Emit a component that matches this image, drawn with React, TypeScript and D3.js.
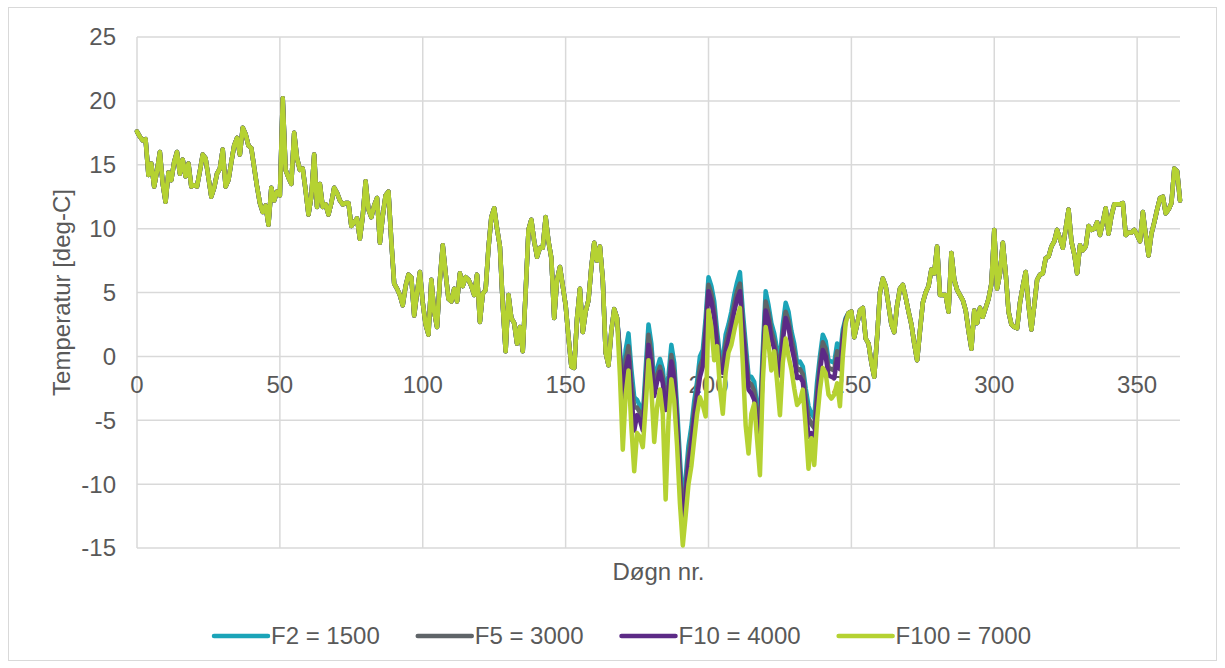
import React, { useEffect, useRef } from 'react';
import * as d3 from 'd3';

// days 0..168, all four series are the same here
const tempStart = [
  17.6, 17.2, 16.9, 17.0, 14.2, 15.1, 13.3, 14.5, 16.0, 13.5,
  12.1, 14.4, 13.8, 15.2, 16.0, 14.3, 15.4, 14.1, 15.1, 13.3,
  13.4, 13.3, 14.5, 15.8, 15.5, 14.0, 12.5, 13.2, 14.3, 14.7,
  16.2, 13.3, 13.8, 15.2, 16.5, 17.1, 15.8, 17.9, 17.4, 16.5,
  16.3, 14.8, 13.3, 12.0, 11.3, 11.8, 10.3, 13.2, 12.2, 12.9,
  12.6, 20.2, 14.6, 14.0, 13.5, 17.5, 15.5, 14.6, 14.7, 13.0,
  11.1, 12.5, 15.8, 11.7, 13.5, 11.7, 11.9, 11.1, 12.0, 13.2,
  12.8, 12.2, 11.9, 12.0, 12.0, 10.2, 10.5, 10.8, 9.2, 11.0,
  13.7, 11.5, 10.9, 11.8, 12.4, 8.9, 11.0, 12.6, 12.9, 9.0,
  5.7, 5.3, 4.8, 4.0, 5.5, 6.4, 6.2, 3.2, 5.0, 6.6,
  4.2, 2.5, 1.7, 6.0, 3.5, 2.3, 6.0, 8.7, 6.5, 4.5,
  4.3, 5.3, 4.3, 6.5, 5.5, 6.2, 6.0, 5.5, 4.8, 6.4,
  2.7, 4.9, 5.2, 8.5, 10.9, 11.6, 10.0, 8.6, 4.0, 0.4,
  4.8, 3.0, 2.6, 1.0, 2.3, 0.4, 5.0, 9.9, 10.7, 9.0,
  7.8, 8.5, 8.5, 10.9, 9.0, 7.7, 3.0, 6.0, 7.0, 5.5,
  4.0, 1.5, -0.8, -0.9, 3.0, 5.3, 1.9, 3.5, 4.4, 7.0,
  8.9, 7.5, 8.6, 6.0, 0.3, -0.7, 2.0, 3.7, 3.0
];

// days 169..248, where the series split
const f2Mid = [
  0.5, -3.0, 0.5, 1.8, -1.0, -3.2, -3.4, -3.9, -4.7, -1.0,
  2.5, 1.0, -2.1, -1.0, -0.2, -1.0, -3.4, -1.5, 0.9, -0.5,
  -4.0, -8.0, -11.8, -9.5, -7.0, -5.5, -3.5, -2.0, 0.0, 0.5,
  3.0, 6.2, 5.5, 4.3, 2.0, 0.0, -0.3, 1.7, 2.5, 3.5,
  4.8, 5.8, 6.6, 3.5, 1.0, -1.5, -1.6, -2.0, -3.9, -4.7,
  0.5, 5.1, 4.0, 2.6, 1.8, 0.5, -0.3, 2.5, 4.2, 3.5,
  2.0, 1.0, -0.5, -0.4, -0.8, -2.5, -3.9, -4.5, -4.8, -2.0,
  0.0, 1.7, 1.2, -0.3, -0.4, -0.5, 1.0, 0.0, 2.1, 3.0
];
const f5Mid = [
  0.2, -3.5, -0.3, 0.8, -2.0, -4.0, -4.0, -4.4, -5.2, -1.8,
  1.7, 0.2, -2.6, -1.5, -0.8, -1.6, -3.8, -2.2, 0.1, -1.2,
  -4.8, -9.0, -12.5, -10.3, -7.8, -6.2, -4.2, -2.6, -0.8, -0.2,
  2.3, 5.6, 4.9, 3.6, 1.4, -0.5, -0.9, 1.0, 1.9, 2.9,
  4.1, 5.1, 5.7, 2.8, 0.3, -2.0, -2.2, -2.7, -4.6, -5.5,
  -0.2, 4.3, 3.4, 2.0, 1.2, -0.2, -0.9, 1.8, 3.5, 2.8,
  1.4, 0.4, -1.1, -1.0, -1.4, -3.2, -4.8, -5.3, -5.6, -2.8,
  -0.6, 1.1, 0.6, -0.9, -1.0, -1.1, 0.4, -0.6, 1.7, 2.9
];
const f10Mid = [
  0.0, -4.0, -1.0, 0.0, -3.0, -5.8, -4.6, -5.0, -5.8, -2.6,
  0.9, -0.6, -3.1, -2.0, -1.2, -2.1, -4.2, -2.8, -0.4, -1.8,
  -5.5, -10.0, -13.3, -11.0, -8.5, -7.0, -4.9, -3.2, -1.6, -0.8,
  1.8, 5.1, 4.3, 3.0, 0.8, -1.0, -1.3, 0.4, 1.3, 2.3,
  3.5, 4.5, 5.1, 2.0, -0.4, -2.6, -2.9, -3.4, -5.4, -6.3,
  -1.0, 3.6, 2.8, 1.4, 0.6, -0.8, -1.5, 1.2, 3.0, 2.3,
  0.8, -0.2, -1.7, -1.6, -2.0, -4.0, -6.3, -6.0, -6.5, -3.6,
  -1.2, 0.5, 0.0, -1.5, -1.6, -1.7, -0.2, -1.0, 1.3, 2.8
];
const f100Mid = [
  -1.5, -7.3, -3.0, -1.1, -5.5, -9.0, -6.0, -6.3, -7.1, -4.0,
  -0.3, -2.5, -6.7, -4.0, -2.6, -4.5, -11.2, -5.0, -1.8, -3.5,
  -7.0, -11.5, -14.8, -12.5, -10.0, -8.6, -6.5, -4.5, -3.2, -3.8,
  -4.7, 3.6, 2.3, -0.3, 0.8, -2.5, -4.5, -1.3, 0.3, 0.9,
  2.0, 3.0, 3.8, -0.5, -5.4, -7.6, -4.5, -3.7, -6.5, -9.3,
  -2.0, 2.3, 1.0, -1.1, 0.4, -2.0, -4.6, -0.5, 1.4, 0.0,
  -1.0, -2.5, -3.8, -3.5, -2.6, -5.5, -8.8, -6.4, -8.5, -5.0,
  -2.6, -0.9, -1.3, -3.0, -3.3, -3.0, -2.1, -3.9, 0.0, 2.6
];

// days 249..365, same again
const tempEnd = [
  3.4, 3.5, 1.5, 2.5, 3.6, 3.8, 1.4, 1.0, -0.5, -1.6,
  1.5, 5.0, 6.1, 5.5, 4.0, 2.5, 1.9, 4.0, 5.3, 5.6,
  4.6, 3.5, 2.5, 1.0, -0.3, 2.0, 4.2, 5.0, 5.5, 6.8,
  6.5, 8.6, 4.8, 4.8, 4.8, 3.5, 8.1, 6.0, 5.2, 4.8,
  4.4, 3.6, 2.0, 0.6, 3.6, 2.6, 3.8, 3.1, 3.8, 4.5,
  5.7, 9.9, 5.3, 6.5, 8.9, 6.5, 3.5, 2.5, 2.3, 2.2,
  4.2, 5.5, 6.6, 4.0, 2.1, 4.0, 6.0, 6.4, 6.5, 7.7,
  7.8, 8.6, 9.0, 9.9, 9.2, 8.5, 10.0, 11.5, 9.0, 8.0,
  6.5, 8.7, 8.3, 8.6, 10.2, 9.9, 10.0, 10.5, 9.5, 10.5,
  11.6, 9.6, 11.0, 11.9, 11.9, 11.9, 12.0, 9.5, 9.7, 9.7,
  9.9, 9.5, 9.0, 11.3, 9.5, 7.9, 9.6, 10.5, 11.5, 12.4,
  12.5, 11.2, 11.5, 12.0, 14.7, 14.5, 12.2
];

const seriesLabels = ['F2 = 1500', 'F5 = 3000', 'F10 = 4000', 'F100 = 7000'];
const seriesMids = [f2Mid, f5Mid, f10Mid, f100Mid];
const colors = ['#1ba4b8', '#5f6468', '#5c2a86', '#b5d232'];

const xTicks = [0, 50, 100, 150, 200, 250, 300, 350];
const yTicks = [-15, -10, -5, 0, 5, 10, 15, 20, 25];

export default function App() {
  const ref = useRef<SVGSVGElement>(null);

  useEffect(() => {
    if (!ref.current) return;
    const svg = d3.select(ref.current);
    svg.selectAll('*').remove();

    const font = '"Liberation Sans", Arial, sans-serif';
    const textColor = '#595959';
    const fs = 24;

    const x = d3.scaleLinear().domain([0, 365]).range([137, 1180]);
    const y = d3.scaleLinear().domain([-15, 25]).range([548, 37]);

    // outer chart frame
    svg.append('rect')
      .attr('x', 8.5).attr('y', 7.5)
      .attr('width', 1208).attr('height', 653)
      .attr('fill', '#fff')
      .attr('stroke', '#d9d9d9');

    svg.append('g').selectAll('line')
      .data(yTicks).enter().append('line')
      .attr('x1', x(0)).attr('x2', x(365))
      .attr('y1', d => y(d)).attr('y2', d => y(d))
      .attr('stroke', '#d9d9d9').attr('stroke-width', 1.5);

    svg.append('g').selectAll('line')
      .data(xTicks).enter().append('line')
      .attr('x1', d => x(d)).attr('x2', d => x(d))
      .attr('y1', y(-15)).attr('y2', y(25))
      .attr('stroke', '#d9d9d9').attr('stroke-width', 1.5);

    svg.append('g').selectAll('text')
      .data(yTicks).enter().append('text')
      .attr('x', 116).attr('y', d => y(d)).attr('dy', '0.35em')
      .attr('text-anchor', 'end')
      .style('font-family', font).style('font-size', fs + 'px').style('fill', textColor)
      .text(d => d);

    svg.append('g').selectAll('text')
      .data(xTicks).enter().append('text')
      .attr('x', d => x(d)).attr('y', y(0) + 37)
      .attr('text-anchor', 'middle')
      .style('font-family', font).style('font-size', fs + 'px').style('fill', textColor)
      .text(d => d);

    const line = d3.line<number>()
      .x((_, i) => x(i))
      .y(d => y(d))
      .curve(d3.curveLinear);

    seriesMids.forEach((mid, i) => {
      const vals = [...tempStart, ...mid, ...tempEnd];
      svg.append('path')
        .datum(vals)
        .attr('d', line)
        .attr('fill', 'none')
        .attr('stroke', colors[i])
        .attr('stroke-width', 4.5)
        .attr('stroke-linejoin', 'round')
        .attr('stroke-linecap', 'round');
    });

    svg.append('text')
      .attr('transform', `translate(62, ${(y(-15) + y(25)) / 2}) rotate(-90)`)
      .attr('text-anchor', 'middle').attr('dy', '0.35em')
      .style('font-family', font).style('font-size', fs + 'px').style('fill', textColor)
      .text('Temperatur [deg-C]');

    svg.append('text')
      .attr('x', (x(0) + x(365)) / 2).attr('y', 572).attr('dy', '0.35em')
      .attr('text-anchor', 'middle')
      .style('font-family', font).style('font-size', fs + 'px').style('fill', textColor)
      .text('Døgn nr.');

    // legend
    let lx = 214;
    const ly = 636;
    seriesLabels.forEach((label, i) => {
      const g = svg.append('g');
      g.append('line')
        .attr('x1', lx).attr('x2', lx + 54)
        .attr('y1', ly).attr('y2', ly)
        .attr('stroke', colors[i]).attr('stroke-width', 4.5)
        .attr('stroke-linecap', 'round');
      const t = g.append('text')
        .attr('x', lx + 57).attr('y', ly).attr('dy', '0.35em')
        .style('font-family', font).style('font-size', fs + 'px').style('fill', textColor)
        .text(label);
      const w = (t.node() as SVGTextElement).getComputedTextLength();
      lx += 57 + w + 38;
    });
  }, []);

  return (
    <svg
      ref={ref}
      width={1225}
      height={668}
      style={{ position: 'absolute', left: 0, top: 0, background: '#fff' }}
    />
  );
}
